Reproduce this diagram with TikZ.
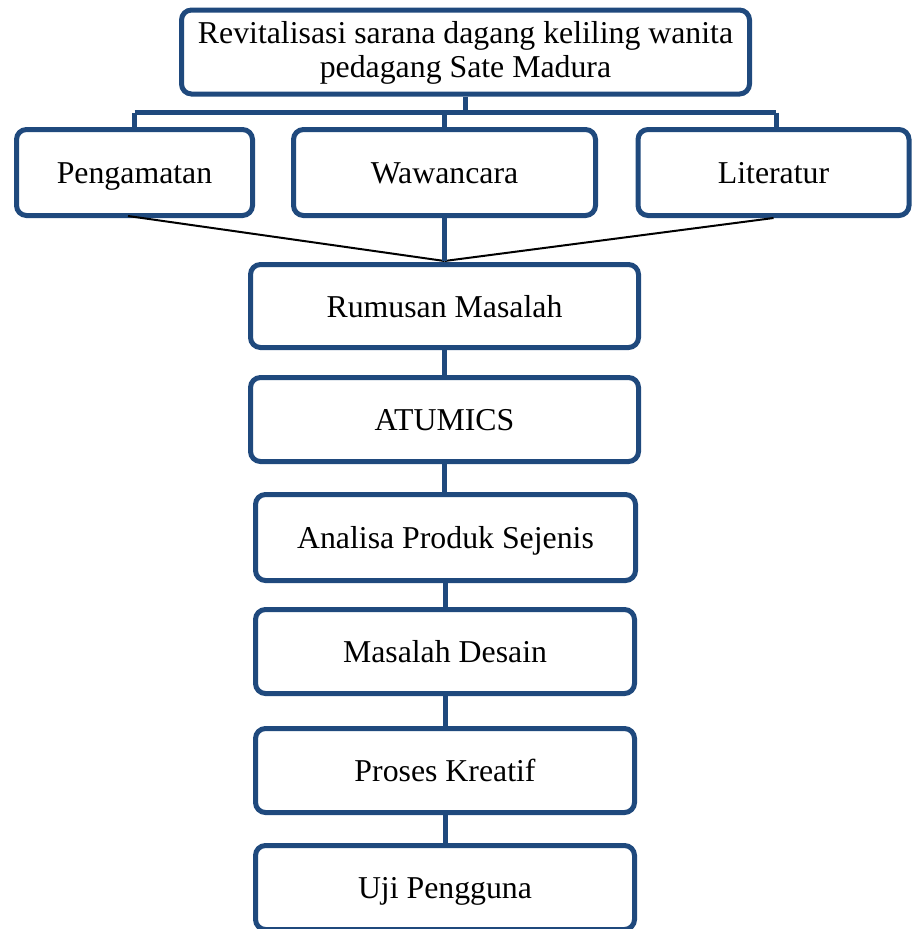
\documentclass[tikz,border=0pt]{standalone}
\usepackage{fontspec}
\setmainfont{Liberation Serif}
\definecolor{boxblue}{HTML}{1F497D}
\begin{document}
\begin{tikzpicture}[x=1pt,y=-1pt,
  box/.style={draw=boxblue, line width=5pt, rounded corners=10pt, fill=white,
    inner sep=0pt, align=center, font=\fontsize{31.8}{34}\selectfont},
  one/.style={text height=24pt, text depth=2pt},
  stem/.style={draw=boxblue, line width=5pt},
  thin/.style={draw=black, line width=2pt}]
\useasboundingbox (0,0) rectangle (911,929);
\node[box, minimum width=568pt, minimum height=84pt, text depth=5pt] (top) at (465.5,52) {Revitalisasi sarana dagang keliling wanita\\pedagang Sate Madura};
\node[box, one, minimum width=236pt, minimum height=86pt] (peng) at (134.5,172.5) {Pengamatan};
\node[box, one, minimum width=302pt, minimum height=86pt] (waw) at (444.5,172.5) {Wawancara};
\node[box, one, minimum width=271pt, minimum height=86pt] (lit) at (773.5,172.5) {Literatur};
\node[box, one, minimum width=388pt, minimum height=83pt] (rum) at (444.5,306) {Rumusan Masalah};
\node[box, one, minimum width=388pt, minimum height=84pt] (atu) at (444.5,419.5) {ATUMICS};
\node[box, one, minimum width=380pt, minimum height=86pt] (ana) at (445.5,537.5) {Analisa Produk Sejenis};
\node[box, one, minimum width=379pt, minimum height=84pt] (mas) at (445,651.5) {Masalah Desain};
\node[box, one, minimum width=379pt, minimum height=84pt] (pro) at (445,770.5) {Proses Kreatif};
\node[box, one, minimum width=379pt, minimum height=84pt] (uji) at (445,887.5) {Uji Pengguna};
% branch connectors
\coordinate (hub) at (465.5,112.5);
\coordinate (hl) at (134.5,112.5);
\coordinate (hr) at (776,112.5);
\coordinate (hw) at (444.5,112.5);
\coordinate (hlit) at (776,129);
\draw[stem] (top.south) -- (hub);
\draw[stem] (hl) -- (hr);
\draw[stem] (hl) -- (peng.north);
\draw[stem] (hw) -- (waw.north);
\draw[stem] (hr) -- (hlit);
% convergence
\coordinate (apex) at (444.5,261);
\coordinate (pengout) at (128,216);
\draw[thin] (pengout) -- (apex);
\draw[thin] (lit.south) -- (apex);
\draw[stem] (waw.south) -- (apex);
% chain
\draw[stem] (rum.south) -- (atu.north);
\draw[stem] (atu.south) -- (atu.south |- ana.north);
\draw[stem] (ana.south -| mas.north) -- (mas.north);
\draw[stem] (mas.south) -- (pro.north);
\draw[stem] (pro.south) -- (uji.north);
\end{tikzpicture}
\end{document}
